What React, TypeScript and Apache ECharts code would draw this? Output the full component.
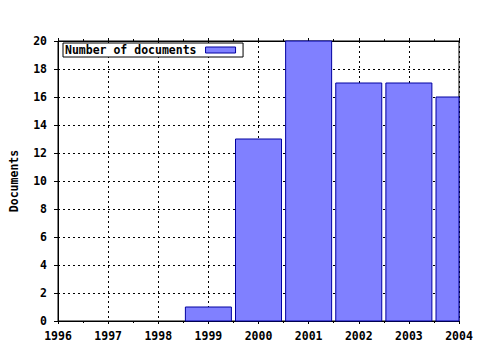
import React, { useEffect, useRef } from "react";
import * as echarts from "echarts";

const years = [1996, 1997, 1998, 1999, 2000, 2001, 2002, 2003, 2004];
const documents = [0, 0, 0, 1, 13, 20, 17, 17, 16];
const seriesName = "Number of documents";
const yAxisName = "Documents";

const FONT = "'DejaVu Sans Mono', monospace";
const BAR_FILL = "#8080ff";
const BAR_BORDER = "#0000a0";
const BAR_WIDTH = 46;

export default function App() {
  const ref = useRef<HTMLDivElement>(null);
  useEffect(() => {
    document.body.style.margin = "0";
    if (!ref.current) return;
    const chart = echarts.init(ref.current, undefined, { renderer: "svg" });
    const dotted = { color: "#000", width: 1, type: [2, 3] as any };
    chart.setOption({
      animation: false,
      backgroundColor: "#fff",
      grid: {
        left: 58,
        right: 21,
        top: 41,
        bottom: 29,
        show: true,
        borderColor: "#000",
        borderWidth: 1,
        backgroundColor: "transparent",
      },
      legend: {
        show: true,
        left: 63,
        top: 43,
        align: "right",
        orient: "horizontal",
        padding: [1, 7, 1, 2],
        borderColor: "#000",
        borderWidth: 1,
        backgroundColor: "#fff",
        itemWidth: 30,
        itemHeight: 6,
        icon: "rect",
        textStyle: {
          fontFamily: FONT,
          fontWeight: "bold",
          fontSize: 11.5,
          color: "#000",
          lineHeight: 12,
          padding: [0, 4, 0, 0],
        },
        data: [
          {
            name: seriesName,
            itemStyle: { color: BAR_FILL, borderColor: BAR_BORDER, borderWidth: 1 },
          },
        ],
      },
      xAxis: [
        {
          type: "value",
          min: years[0],
          max: years[years.length - 1],
          interval: 1,
          position: "bottom",
          axisLine: { show: true, lineStyle: { color: "#000" } },
          axisTick: { show: true, inside: false, length: 3, lineStyle: { color: "#000" } },
          minorTick: { show: true, splitNumber: 2, length: 2, lineStyle: { color: "#000" } },
          splitLine: { show: true, lineStyle: dotted },
          axisLabel: {
            margin: 9,
            color: "#000",
            fontFamily: FONT,
            fontWeight: "bold",
            fontSize: 11.5,
            formatter: (v: number) => String(v),
            showMinLabel: true,
            showMaxLabel: true,
          },
        },
        {
          type: "value",
          min: years[0],
          max: years[years.length - 1],
          interval: 1,
          position: "top",
          axisLine: { show: true, lineStyle: { color: "#000" } },
          axisTick: { show: true, inside: false, length: 3, lineStyle: { color: "#000" } },
          minorTick: { show: true, splitNumber: 2, length: 2, lineStyle: { color: "#000" } },
          splitLine: { show: false },
          axisLabel: { show: false },
        },
      ],
      yAxis: [
        {
          type: "value",
          min: 0,
          max: 20,
          interval: 2,
          name: yAxisName,
          nameLocation: "middle",
          nameRotate: 90,
          nameGap: 38,
          nameTextStyle: {
            fontFamily: FONT,
            fontWeight: "bold",
            fontSize: 11.5,
            color: "#000",
          },
          axisLine: { show: true, lineStyle: { color: "#000" } },
          axisTick: { show: true, inside: false, length: 4, lineStyle: { color: "#000" } },
          splitLine: { show: true, lineStyle: dotted },
          axisLabel: {
            margin: 11,
            color: "#000",
            fontFamily: FONT,
            fontWeight: "bold",
            fontSize: 11.5,
          },
        },
      ],
      series: [
        {
          name: seriesName,
          type: "custom",
          xAxisIndex: 0,
          yAxisIndex: 0,
          itemStyle: { color: BAR_FILL, borderColor: BAR_BORDER, borderWidth: 1 },
          encode: { x: 0, y: 1 },
          renderItem: (params: any, api: any) => {
            const v = api.value(1);
            if (!v) return null;
            const top = api.coord([api.value(0), v]);
            const base = api.coord([api.value(0), 0]);
            const cs = params.coordSys;
            const shape = echarts.graphic.clipRectByRect(
              {
                x: top[0] - BAR_WIDTH / 2,
                y: top[1],
                width: BAR_WIDTH,
                height: base[1] - top[1],
              },
              { x: cs.x, y: cs.y, width: cs.width, height: cs.height }
            );
            if (!shape) return null;
            return {
              type: "rect",
              shape,
              style: { fill: BAR_FILL, stroke: BAR_BORDER, lineWidth: 1 },
            };
          },
          data: years.map((y, i) => [y, documents[i]]),
        },
      ],
    });
    return () => chart.dispose();
  }, []);
  return <div ref={ref} style={{ width: 480, height: 350 }} />;
}
